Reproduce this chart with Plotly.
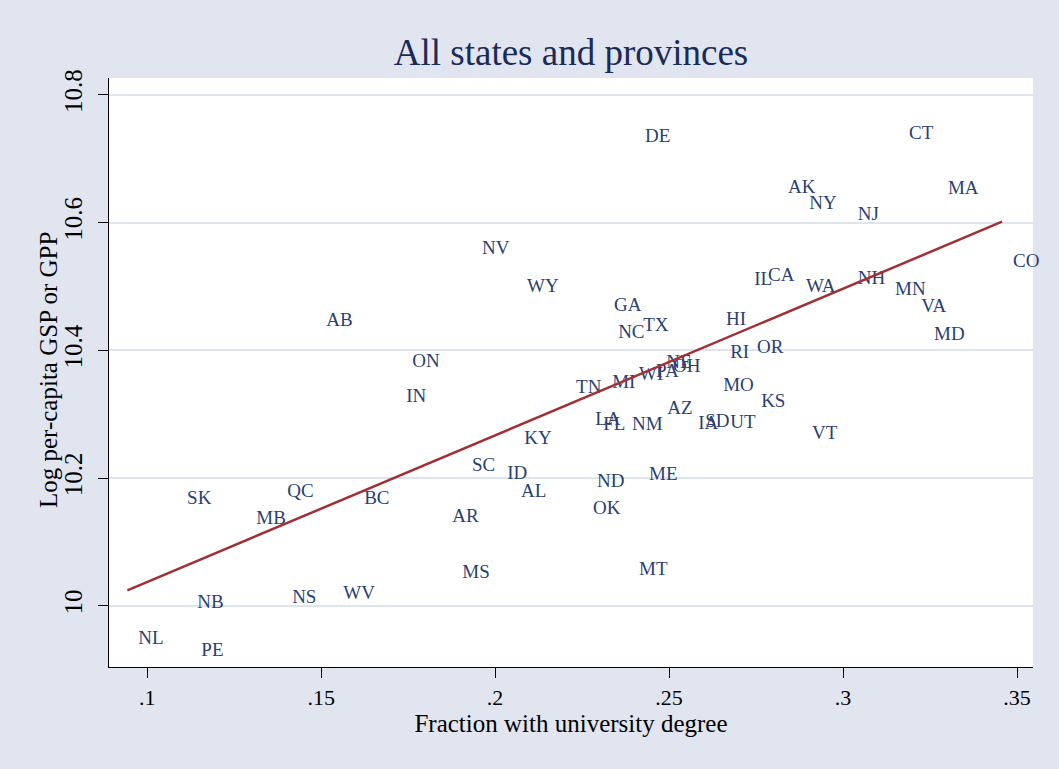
import numpy as np
import plotly.graph_objects as go

# Region abbreviations (US states and Canadian provinces)
abbr = ["AB", "BC", "MB", "NB", "NL", "NS", "ON", "PE", "QC", "SK",
        "AK", "AL", "AR", "AZ", "CA", "CO", "CT", "DE", "FL", "GA",
        "HI", "IA", "ID", "IL", "IN", "KS", "KY", "LA", "MA", "MD",
        "ME", "MI", "MN", "MO", "MS", "MT", "NC", "ND", "NE", "NH",
        "NJ", "NM", "NV", "NY", "OH", "OK", "OR", "PA", "RI", "SC",
        "SD", "TN", "TX", "UT", "VA", "VT", "WA", "WI", "WV", "WY"]

# Fraction with university degree
frac_degree = [0.1483, 0.1592, 0.1282, 0.1112, 0.0943, 0.1385, 0.1730, 0.1124, 0.1371, 0.1083,
               0.2810, 0.2043, 0.1845, 0.2463, 0.2753, 0.3457, 0.3158, 0.2399, 0.2279, 0.2310,
               0.2632, 0.2552, 0.2003, 0.2713, 0.1713, 0.2733, 0.2052, 0.2256, 0.3270, 0.3230,
               0.2411, 0.2305, 0.3118, 0.2624, 0.1874, 0.2382, 0.2322, 0.2261, 0.2460, 0.3011,
               0.3011, 0.2362, 0.1931, 0.2871, 0.2480, 0.2250, 0.2721, 0.2431, 0.2644, 0.1902,
               0.2572, 0.2201, 0.2394, 0.2644, 0.3193, 0.2879, 0.2862, 0.2382, 0.1532, 0.2060]

# Log per-capita GSP or GPP
log_gsp = [10.446, 10.166, 10.136, 10.004, 9.948, 10.011, 10.382, 9.928, 10.178, 10.166,
           10.654, 10.177, 10.139, 10.308, 10.516, 10.538, 10.739, 10.733, 10.283, 10.469,
           10.447, 10.284, 10.206, 10.510, 10.327, 10.319, 10.260, 10.291, 10.653, 10.424,
           10.205, 10.349, 10.494, 10.344, 10.051, 10.056, 10.426, 10.194, 10.380, 10.512,
           10.612, 10.283, 10.559, 10.629, 10.374, 10.151, 10.404, 10.366, 10.396, 10.219,
           10.288, 10.341, 10.438, 10.286, 10.468, 10.269, 10.499, 10.361, 10.018, 10.499]

x_ticks = [0.1, 0.15, 0.2, 0.25, 0.3, 0.35]
x_ticktext = [".1", ".15", ".2", ".25", ".3", ".35"]
y_ticks = [10.0, 10.2, 10.4, 10.6, 10.8]
y_ticktext = ["10", "10.2", "10.4", "10.6", "10.8"]

# Linear fit (fitted values) across the range of the data
xa = np.array(frac_degree)
ya = np.array(log_gsp)
slope, intercept = np.polyfit(xa, ya, 1)
fit_x = [float(xa.min()), float(xa.max())]
fit_y = [intercept + slope * v for v in fit_x]

SERIF = "Liberation Serif"
BG = "#e1e5f0"

fig = go.Figure()
fig.add_trace(go.Scatter(
    x=frac_degree, y=log_gsp, mode="markers+text", text=abbr,
    textposition="middle right", cliponaxis=False,
    marker=dict(size=16, color="rgba(0,0,0,0)"),
    textfont=dict(family=SERIF, size=19, color="#2a3f72"),
    showlegend=False, hoverinfo="text+x+y"))
fig.add_trace(go.Scatter(
    x=fit_x, y=fit_y, mode="lines",
    line=dict(color="#a03034", width=2.5),
    showlegend=False))

fig.update_layout(
    width=1059, height=769,
    paper_bgcolor=BG, plot_bgcolor="white",
    margin=dict(l=109, r=26, t=78, b=102),
    title=dict(text="All states and provinces", x=0.5, xref="paper",
               y=1 - 52 / 769, yref="container", xanchor="center", yanchor="middle",
               font=dict(family=SERIF, size=37, color="#1b2a56")),
    xaxis=dict(range=[0.08902, 0.3546], tickvals=x_ticks, ticktext=x_ticktext,
               showgrid=False, zeroline=False, showline=True, linecolor="black", linewidth=1.3,
               ticks="outside", ticklen=10, tickcolor="black", tickwidth=1.3,
               tickfont=dict(family=SERIF, size=22, color="black"),
               title=dict(text="Fraction with university degree",
                          font=dict(family=SERIF, size=25, color="black"), standoff=4)),
    yaxis=dict(range=[9.904, 10.8265], tickvals=y_ticks, ticktext=y_ticktext,
               tickangle=-90, showgrid=True, gridcolor="#dfe4ef", gridwidth=2,
               zeroline=False, showline=True, linecolor="black", linewidth=1.3,
               ticks="outside", ticklen=10, tickcolor="black", tickwidth=1.3,
               ticklabelstandoff=6,
               tickfont=dict(family=SERIF, size=25, color="black")),
    annotations=[dict(text="Log per-capita GSP or GPP", textangle=-90,
                      xref="paper", yref="paper", x=(48 - 109) / 924, y=(667 - 370) / 589,
                      xanchor="center", yanchor="middle", showarrow=False,
                      font=dict(family=SERIF, size=25, color="black"))],
)

fig.write_html("out.html", config={"displayModeBar": False},
               post_script="document.body.style.margin='0';document.body.style.overflow='hidden';")
